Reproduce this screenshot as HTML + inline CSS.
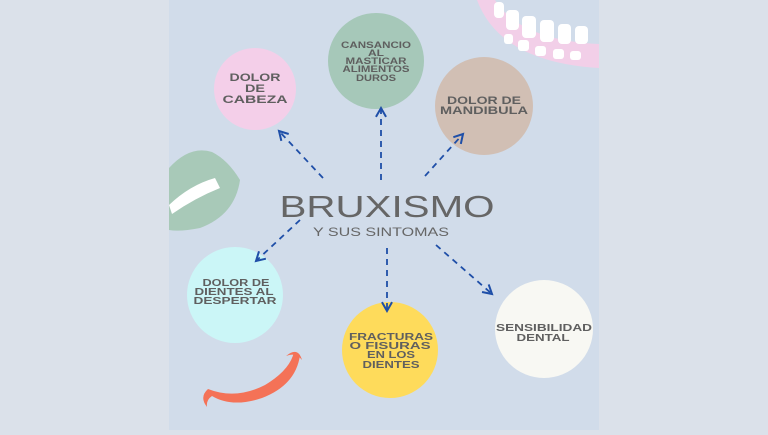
<!DOCTYPE html>
<html><head><style>
body{margin:0;width:768px;height:430px;overflow:hidden;background:#dbe1ea;}
svg text{font-family:"Liberation Sans",sans-serif;font-weight:bold;fill:#5f5f5f;text-anchor:middle;}
</style></head><body>
<svg width="768" height="430" viewBox="0 0 768 430">
<defs><marker id="a" viewBox="0 0 10 10" refX="8" refY="5" markerWidth="7" markerHeight="7" orient="auto"><path d="M1 1L8 5L1 9" fill="none" stroke="#1f4fa8" stroke-width="1.6"/></marker></defs>
<rect x="169" y="0" width="430" height="430" fill="#d1dcea"/>
<path d="M477 0 Q500 62 599 68 L599 44 Q520 40 495 0Z" fill="#f2cfe8"/>
<g fill="#fff"><rect x="494" y="2" width="10" height="16" rx="4"/><rect x="506" y="10" width="13" height="20" rx="4"/><rect x="522" y="16" width="14" height="22" rx="4"/><rect x="540" y="20" width="14" height="22" rx="4"/><rect x="558" y="24" width="13" height="20" rx="4"/><rect x="575" y="26" width="13" height="18" rx="4"/><rect x="504" y="34" width="9" height="10" rx="3"/><rect x="518" y="40" width="11" height="11" rx="3"/><rect x="535" y="46" width="11" height="10" rx="3"/><rect x="553" y="49" width="11" height="10" rx="3"/><rect x="570" y="51" width="11" height="9" rx="3"/></g>
<path d="M169 168 Q190 145 212 152 Q228 160 240 180 Q235 215 200 228 Q180 232 169 230Z" fill="#a8c9b8"/>
<path d="M169 205 Q190 185 215 178 L220 188 Q195 198 172 214Z" fill="#fff"/>
<path d="M300 355 Q296 385 262 398 Q232 408 212 396 Q206 400 207 407 Q199 397 208 389 Q236 400 265 385 Q290 370 294 352Z" fill="#f47257"/>
<path d="M286 356 Q298 346 302 360 Q296 352 286 356Z" fill="#f47257"/>
<circle cx="255" cy="89" r="41" fill="#f4cfe9"/>
<circle cx="376" cy="61" r="48" fill="#a6c8b9"/>
<circle cx="484" cy="106" r="49" fill="#d1bfb4"/>
<circle cx="235" cy="295" r="48" fill="#cbf6f7"/>
<circle cx="390" cy="350" r="48" fill="#fedb5b"/>
<circle cx="544" cy="329" r="49" fill="#f8f8f3"/>
<g stroke="#1f4fa8" stroke-width="1.8" stroke-dasharray="6 5" fill="none" marker-end="url(#a)">
<line x1="323" y1="178" x2="279" y2="131"/>
<line x1="381" y1="180" x2="381" y2="108"/>
<line x1="425" y1="176" x2="463" y2="134"/>
<line x1="300" y1="220" x2="256" y2="261"/>
<line x1="387" y1="248" x2="387" y2="311"/>
<line x1="436" y1="245" x2="492" y2="294"/>
</g>
<text x="387" y="217" font-size="31" style="font-weight:normal;fill:#666" textLength="215" lengthAdjust="spacingAndGlyphs">BRUXISMO</text>
<text x="381" y="236" font-size="12" style="font-weight:normal;fill:#666" textLength="136" lengthAdjust="spacingAndGlyphs">Y SUS SINTOMAS</text>
<g font-size="11">
<text x="255" y="81" textLength="51" lengthAdjust="spacingAndGlyphs">DOLOR</text><text x="255" y="92" textLength="20" lengthAdjust="spacingAndGlyphs">DE</text><text x="255" y="103" textLength="65" lengthAdjust="spacingAndGlyphs">CABEZA</text>
<g font-size="9.5"><text x="376" y="48" textLength="70" lengthAdjust="spacingAndGlyphs">CANSANCIO</text><text x="376" y="56" textLength="16" lengthAdjust="spacingAndGlyphs">AL</text><text x="376" y="64" textLength="61" lengthAdjust="spacingAndGlyphs">MASTICAR</text><text x="376" y="72" textLength="67" lengthAdjust="spacingAndGlyphs">ALIMENTOS</text><text x="376" y="81" textLength="40" lengthAdjust="spacingAndGlyphs">DUROS</text></g>
<text x="484" y="104" textLength="74" lengthAdjust="spacingAndGlyphs">DOLOR DE</text><text x="484" y="114" textLength="88" lengthAdjust="spacingAndGlyphs">MANDIBULA</text>
<g font-size="10"><text x="236" y="286" textLength="67" lengthAdjust="spacingAndGlyphs">DOLOR DE</text><text x="234" y="295" textLength="79" lengthAdjust="spacingAndGlyphs">DIENTES AL</text><text x="235" y="304" textLength="83" lengthAdjust="spacingAndGlyphs">DESPERTAR</text>
<text x="391" y="340" textLength="84" lengthAdjust="spacingAndGlyphs">FRACTURAS</text><text x="390" y="349" textLength="81" lengthAdjust="spacingAndGlyphs">O FISURAS</text><text x="391" y="358" textLength="48" lengthAdjust="spacingAndGlyphs">EN LOS</text><text x="391" y="368" textLength="57" lengthAdjust="spacingAndGlyphs">DIENTES</text>
<text x="544" y="331" textLength="96" lengthAdjust="spacingAndGlyphs">SENSIBILIDAD</text><text x="543" y="341" textLength="53" lengthAdjust="spacingAndGlyphs">DENTAL</text></g>
</g>
</svg>
</body></html>
